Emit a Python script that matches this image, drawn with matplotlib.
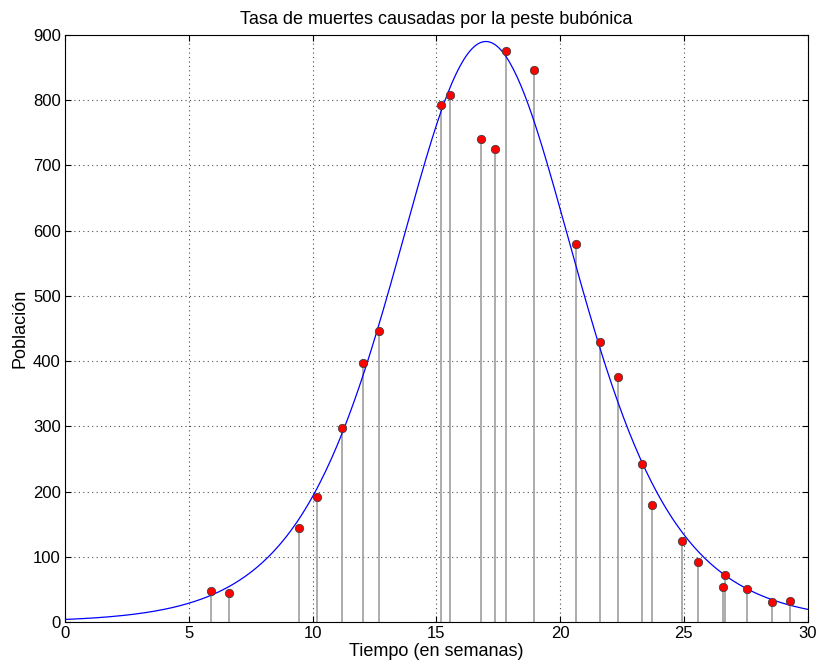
import numpy as np
import matplotlib
matplotlib.use("Agg")
import matplotlib.pyplot as plt

plt.rcParams['font.family'] = ['Liberation Sans', 'DejaVu Sans']
plt.rcParams['font.size'] = 12

# observed weekly death rate
semanas = [5.88, 6.61, 9.45, 10.19, 11.2, 12.04, 12.68, 15.17, 15.57, 16.79,
           17.37, 17.83, 18.95, 20.66, 21.6, 22.35, 23.32, 23.73, 24.94, 25.58,
           26.66, 26.58, 27.55, 28.57, 29.3]
muertes = [48, 45, 144, 191, 298, 397, 446, 792, 808, 740,
           725, 875, 846, 580, 430, 376, 243, 179, 124, 92,
           72, 54, 50, 31, 32]

# fitted model: A * sech^2(k*t - c)
A = 890
k = 0.2
c = 3.4

t = np.linspace(0, 30, 400)
modelo = A / np.cosh(k * t - c) ** 2

fig = plt.figure(figsize=(8.2, 6.7), dpi=100)
ax = fig.add_axes([0.0793, 0.0716, 0.9057, 0.8762])

ax.vlines(semanas, 0, muertes, color='0.62', lw=1.2, zorder=2)
ax.plot(t, modelo, color='blue', lw=0.9, zorder=3)
ax.plot(semanas, muertes, 'o', color='red', mec='0.25', mew=0.6, ms=6, zorder=4)

ax.set_xlim(0, 30)
ax.set_ylim(0, 900)
ax.set_xticks(range(0, 31, 5))
ax.set_yticks(range(0, 901, 100))
ax.grid(True, color='0.3', ls=(0, (1, 3)), lw=0.8)
ax.tick_params(direction='in', top=True, right=True, length=4, labelsize=12, pad=3)

ax.set_title("Tasa de muertes causadas por la peste bubónica", fontsize=13, pad=8)
ax.set_xlabel("Tiempo (en semanas)", fontsize=13, labelpad=1)
ax.set_ylabel("Población", fontsize=13, labelpad=3)

fig.savefig("out.png", dpi=100)
